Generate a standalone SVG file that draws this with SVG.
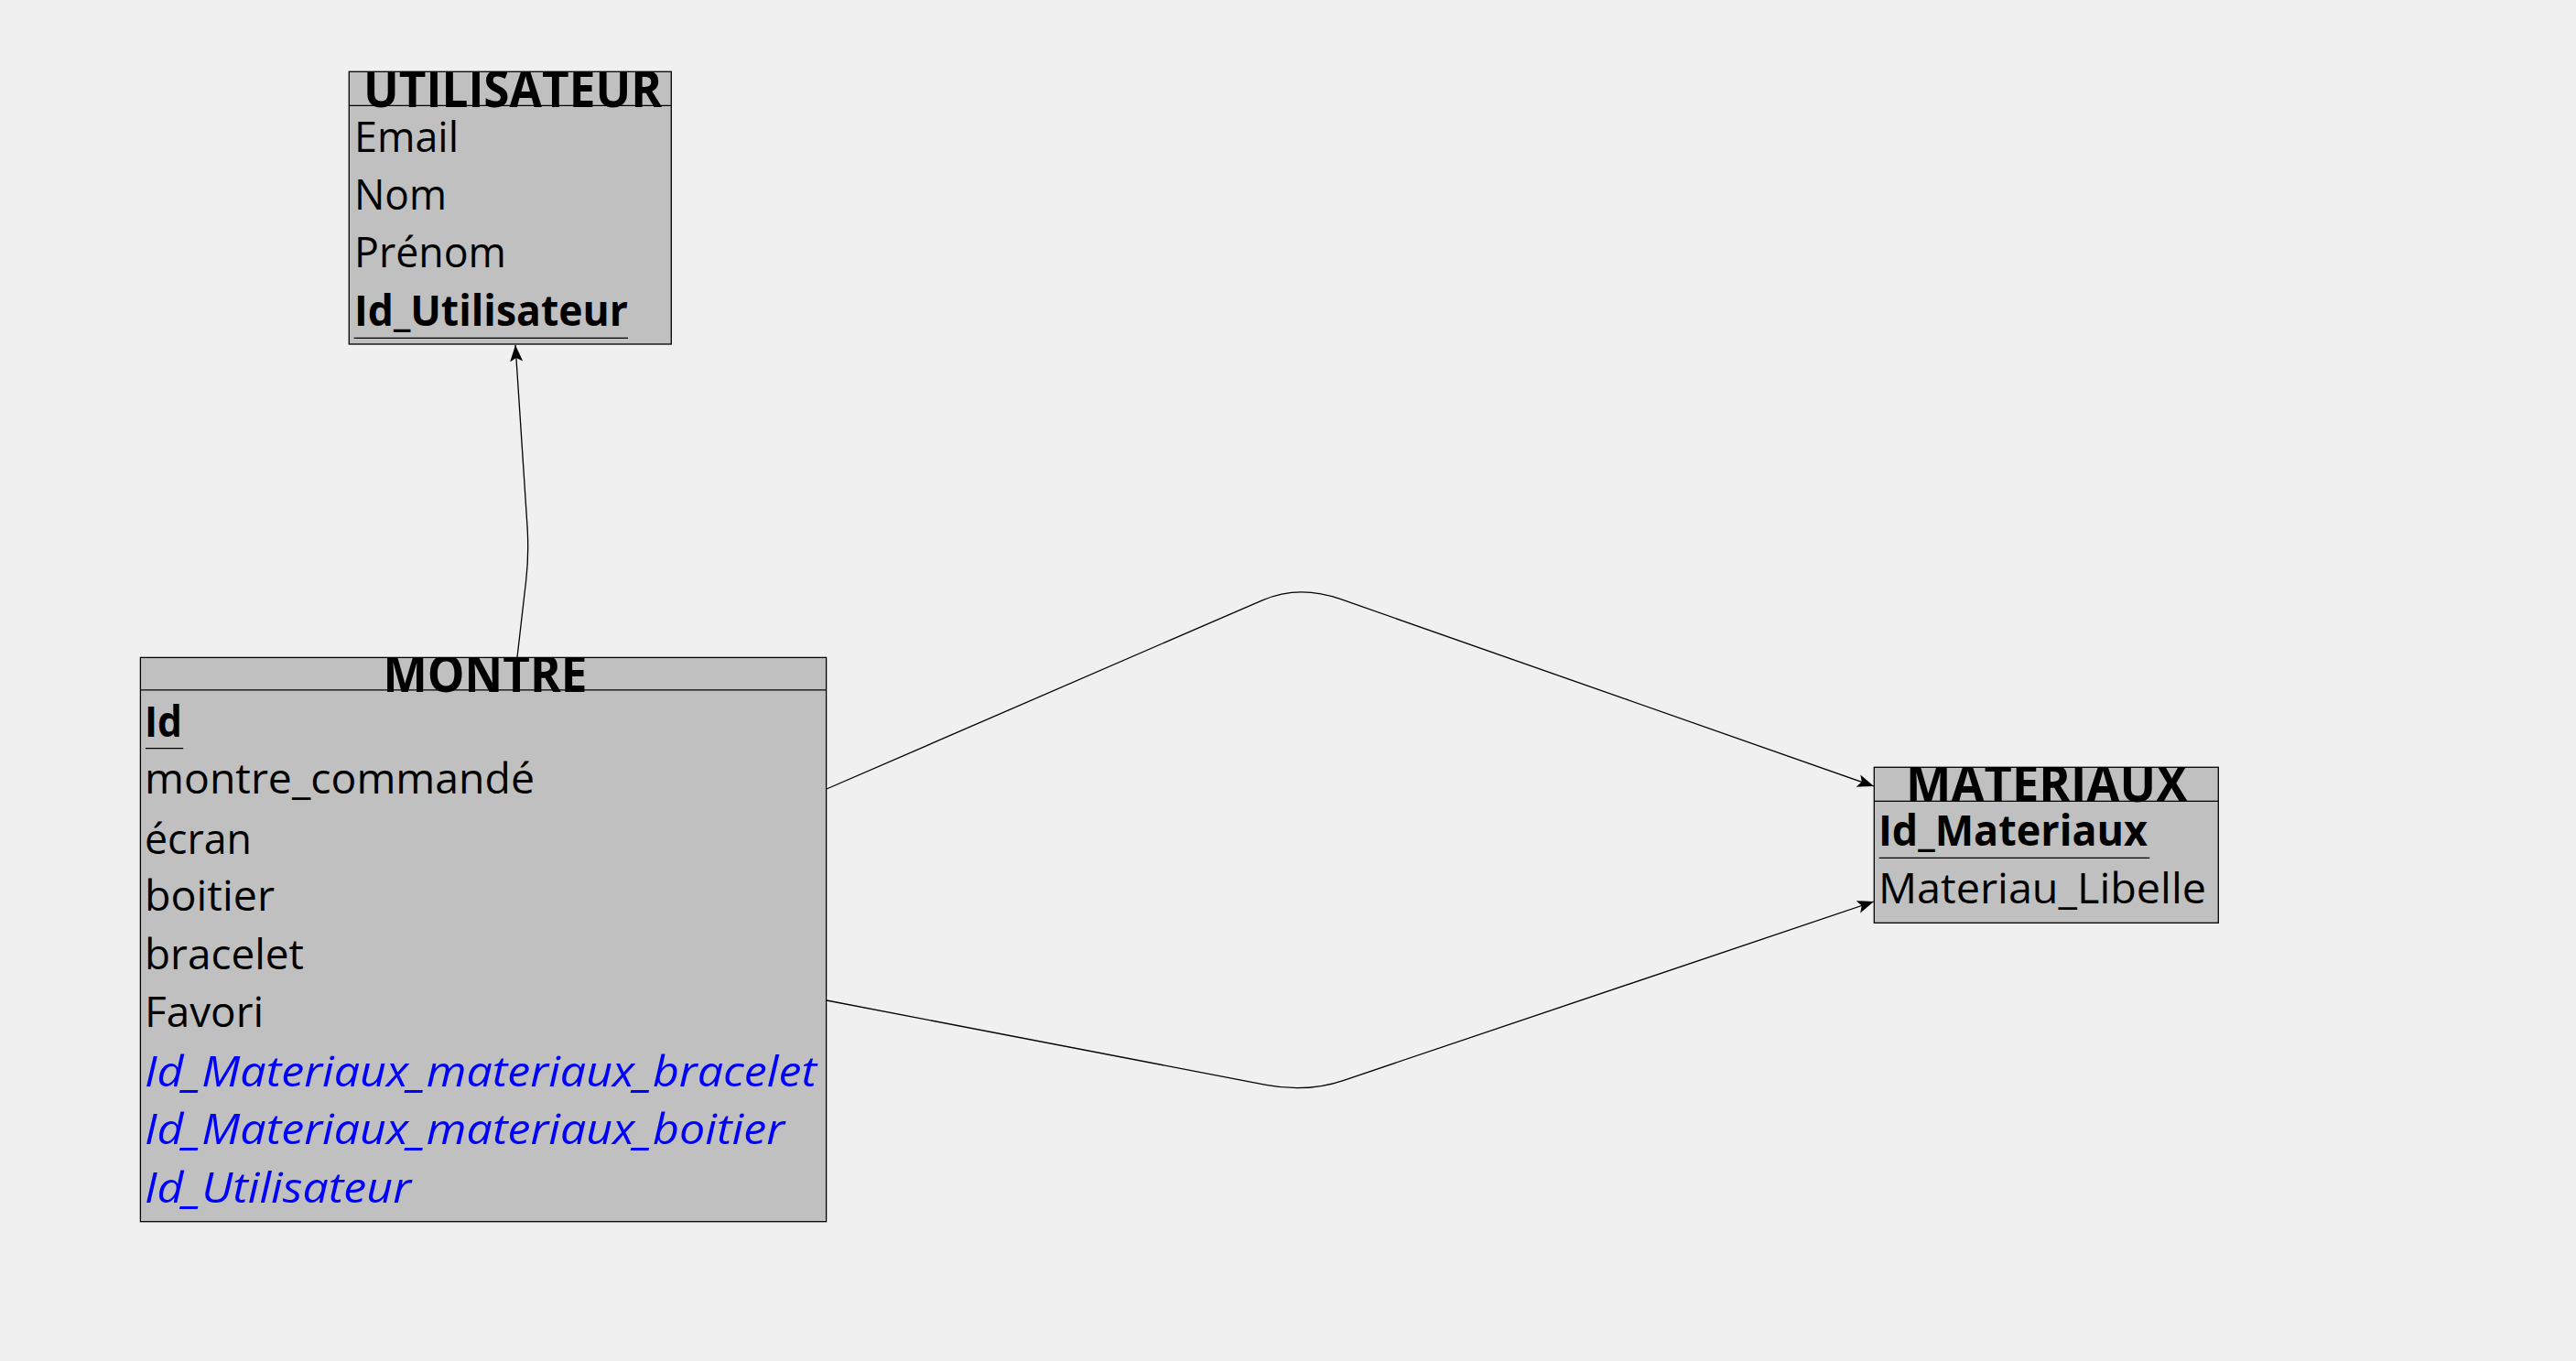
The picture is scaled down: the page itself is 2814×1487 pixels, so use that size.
<svg xmlns="http://www.w3.org/2000/svg" width="2814" height="1487" viewBox="0 0 2814 1487">
<style>
.box{fill:#c0c0c0;stroke:#000;stroke-width:1.3}
.sep{stroke:#000;stroke-width:1.3}
.ul{stroke:#000;stroke-width:1.3}
.title{font-family:"Open Sans","Liberation Sans",sans-serif;font-weight:bold;font-size:56px;fill:#000;text-anchor:middle}
.t{font-family:"Open Sans","Liberation Sans",sans-serif;font-size:46px;fill:#000}
.b{font-weight:bold}
.fk{font-style:italic;fill:#0000ff}
.conn{fill:none;stroke:#000;stroke-width:1.3}
</style>
<defs>
<marker id="arr" markerUnits="userSpaceOnUse" markerWidth="20" markerHeight="16" refX="18" refY="7" orient="auto">
<path d="M0,0 L18,7 L0,14 L4,7 z" fill="#000"/>
</marker>
<clipPath id="cU"><rect x="381" y="78" width="353" height="299"/></clipPath>
<clipPath id="cM"><rect x="153" y="718" width="750" height="617"/></clipPath>
<clipPath id="cX"><rect x="2047" y="838" width="377" height="171"/></clipPath>
</defs>
<rect width="2814" height="1487" fill="#f0f0f0"/>
<g id="connectors">
<path class="conn" d="M565,718 L574.6,634.8 Q578,605 576,575 L563,377" marker-end="url(#arr)"/>
<path class="conn" d="M903,862 L1379,655.8 Q1419,638.5 1464,654.4 L2047,859" marker-end="url(#arr)"/>
<path class="conn" d="M903,1093 L1383,1185.4 Q1428,1194 1468,1180.3 L2047,985" marker-end="url(#arr)"/>
</g>
<g id="utilisateur">
<rect class="box" x="381.3" y="78.3" width="352" height="297.7"/>
<g clip-path="url(#cU)">
<text class="title" x="560" y="117" textLength="326" lengthAdjust="spacingAndGlyphs">UTILISATEUR</text>
</g>
<line class="sep" x1="381.3" y1="115.3" x2="733.3" y2="115.3"/>
<text class="t" x="387" y="166" textLength="114" lengthAdjust="spacingAndGlyphs">Email</text>
<text class="t" x="387" y="229.3" textLength="101" lengthAdjust="spacingAndGlyphs">Nom</text>
<text class="t" x="387" y="291.7" textLength="166" lengthAdjust="spacingAndGlyphs">Prénom</text>
<text class="t b" x="387" y="356" textLength="299" lengthAdjust="spacingAndGlyphs">Id_Utilisateur</text>
<line class="ul" x1="386.7" y1="369.3" x2="686" y2="369.3"/>
</g>
<g id="montre">
<rect class="box" x="153.4" y="718.4" width="749.2" height="616.3"/>
<g clip-path="url(#cM)">
<text class="title" x="530" y="756" textLength="223" lengthAdjust="spacingAndGlyphs">MONTRE</text>
</g>
<line class="sep" x1="153.4" y1="753.9" x2="902.6" y2="753.9"/>
<text class="t b" x="158" y="805.3" textLength="41" lengthAdjust="spacingAndGlyphs">Id</text>
<line class="ul" x1="158.9" y1="817.6" x2="200.2" y2="817.6"/>
<text class="t" x="158" y="867.3" textLength="426" lengthAdjust="spacingAndGlyphs">montre_commandé</text>
<text class="t" x="158" y="932.7" textLength="117" lengthAdjust="spacingAndGlyphs">écran</text>
<text class="t" x="158" y="994.7" textLength="142" lengthAdjust="spacingAndGlyphs">boitier</text>
<text class="t" x="158" y="1059.2" textLength="174" lengthAdjust="spacingAndGlyphs">bracelet</text>
<text class="t" x="158" y="1122.4" textLength="130" lengthAdjust="spacingAndGlyphs">Favori</text>
<text class="t fk" x="158" y="1186.5" textLength="734" lengthAdjust="spacingAndGlyphs">Id_Materiaux_materiaux_bracelet</text>
<text class="t fk" x="158" y="1250.2" textLength="699" lengthAdjust="spacingAndGlyphs">Id_Materiaux_materiaux_boitier</text>
<text class="t fk" x="158" y="1314.3" textLength="291" lengthAdjust="spacingAndGlyphs">Id_Utilisateur</text>
</g>
<g id="materiaux">
<rect class="box" x="2047.3" y="838.3" width="376" height="170"/>
<g clip-path="url(#cX)">
<text class="title" x="2236" y="876" textLength="308" lengthAdjust="spacingAndGlyphs">MATERIAUX</text>
</g>
<line class="sep" x1="2047.3" y1="875.3" x2="2423.3" y2="875.3"/>
<text class="t b" x="2052" y="924" textLength="294" lengthAdjust="spacingAndGlyphs">Id_Materiaux</text>
<line class="ul" x1="2052.7" y1="937.3" x2="2348.3" y2="937.3"/>
<text class="t" x="2052" y="986.7" textLength="358" lengthAdjust="spacingAndGlyphs">Materiau_Libelle</text>
</g>
</svg>
